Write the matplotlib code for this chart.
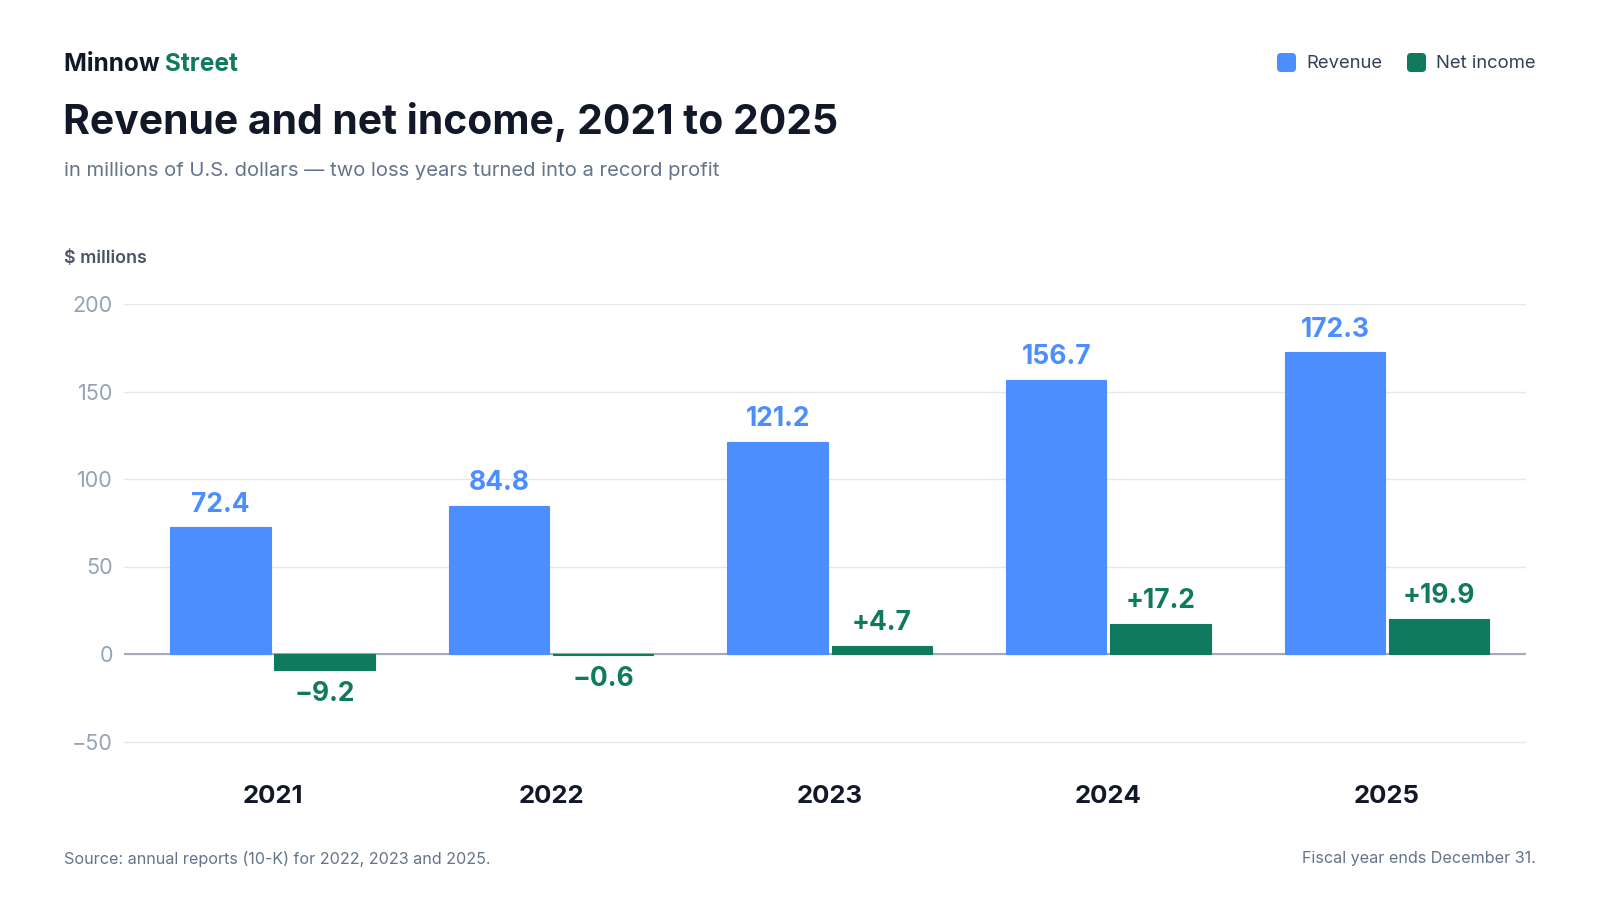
import matplotlib
matplotlib.use("Agg")
import matplotlib.pyplot as plt
from matplotlib.patches import FancyBboxPatch
import numpy as np

plt.rcParams['font.family'] = ['Inter', 'DejaVu Sans']

years = ['2021', '2022', '2023', '2024', '2025']
revenue = [72.4, 84.8, 121.2, 156.7, 172.3]
net_income = [-9.2, -0.6, 4.7, 17.2, 19.9]
yticks = [-50, 0, 50, 100, 150, 200]

BLUE = '#4d8eff'
GREEN = '#0f7a5d'
DARK = '#111827'
GRAY = '#64748b'
TICK = '#94a3b8'

W, H = 1600, 900


def fx(x):
    return x / W


def fy(y):
    return 1 - y / H


fig = plt.figure(figsize=(16, 9), dpi=100)
fig.patch.set_facecolor('white')

ax = fig.add_axes([fx(124), fy(762.5), fx(1526) - fx(124), fy(304) - fy(762.5)])
ax.set_xlim(-0.533, 4.499)
ax.set_ylim(-62, 200)

x = np.arange(len(years))
bw = 0.36
off = 0.187
ax.bar(x - off, revenue, bw, color=BLUE, edgecolor=BLUE, linewidth=0.8, zorder=3)
ax.bar(x + off, net_income, bw, color=GREEN, edgecolor=GREEN, linewidth=0.8, zorder=3)

for xi, v in zip(x, revenue):
    ax.annotate(f'{v:.1f}', (xi - off, v), xytext=(0, 7), textcoords='offset points',
                ha='center', va='bottom', fontsize=19, fontweight='bold', color=BLUE)
for xi, v in zip(x, net_income):
    if v >= 0:
        label = f'+{v:.1f}'
        ax.annotate(label, (xi + off, v), xytext=(0, 7), textcoords='offset points',
                    ha='center', va='bottom', fontsize=19, fontweight='bold', color=GREEN)
    else:
        label = f'\u2212{abs(v):.1f}'
        ax.annotate(label, (xi + off, v), xytext=(0, -8), textcoords='offset points',
                    ha='center', va='top', fontsize=19, fontweight='bold', color=GREEN)

ax.set_yticks(yticks)
ax.set_yticklabels([f'\u2212{abs(t)}' if t < 0 else str(t) for t in yticks])
ax.tick_params(axis='y', length=0, pad=8, labelsize=15.5, labelcolor=TICK)
ax.set_xticks(x)
ax.set_xticklabels(years)
ax.tick_params(axis='x', length=0, pad=16, labelsize=18.5, labelcolor=DARK)
for lab in ax.get_xticklabels():
    lab.set_fontweight('bold')

ax.grid(axis='y', color='#e5e7eb', linewidth=1, zorder=0)
ax.axhline(0, color='#a3aab9', linewidth=1.5, zorder=2)
for s in ax.spines.values():
    s.set_visible(False)

# header
t1 = fig.text(fx(64), fy(71), 'Minnow ', fontsize=17.6, fontweight='bold', color=DARK, va='baseline')
fig.canvas.draw()
bb = t1.get_window_extent()
fig.text(bb.x1 / W, fy(71), 'Street', fontsize=17.6, fontweight='bold', color=GREEN, va='baseline')
fig.text(fx(63), fy(133.5), 'Revenue and net income, 2021 to 2025', fontsize=29.4,
         fontweight='bold', color=DARK, va='baseline')
fig.text(fx(64), fy(175.5), 'in millions of U.S. dollars \u2014 two loss years turned into a record profit',
         fontsize=14.55, color=GRAY, va='baseline')
fig.text(fx(64), fy(263), '$ millions', fontsize=12.9, fontweight='semibold', color='#4b5563', va='baseline')

# legend
for sx, label, col in [(1277, 'Revenue', BLUE), (1407, 'Net income', GREEN)]:
    sq = FancyBboxPatch((fx(sx), fy(72)), fx(19), fy(0) - fy(19),
                        boxstyle='round,pad=0,rounding_size=0.0025', transform=fig.transFigure,
                        facecolor=col, edgecolor='none', mutation_aspect=16 / 9)
    fig.patches.append(sq)
    fig.text(fx(sx + 29), fy(63), label, fontsize=13.3, color='#334155', va='center')

# footer
fig.text(fx(64), fy(859), 'Source: annual reports (10-K) for 2022, 2023 and 2025.',
         fontsize=11.6, color=GRAY, va='center')
fig.text(fx(1536), fy(859), 'Fiscal year ends December 31.', fontsize=11.6, color=GRAY,
         va='center', ha='right')

fig.savefig('out.png', dpi=100, facecolor='white')
